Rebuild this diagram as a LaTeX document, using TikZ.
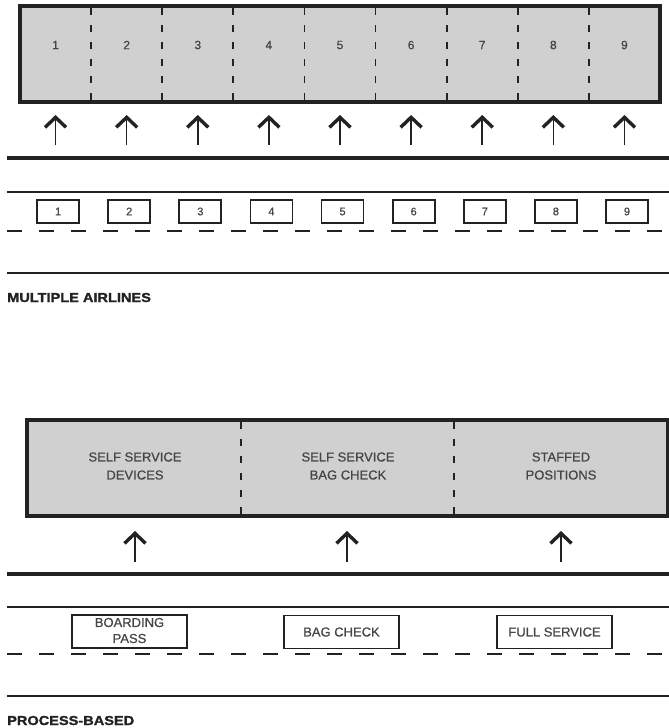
\documentclass[tikz,border=0pt]{standalone}
\usepackage{fontspec}
\setmainfont[FakeBold=0.6]{Liberation Sans}
\newfontfamily\headfont[FakeStretch=1.12,FakeBold=1.4]{Liberation Sans Bold}
\usetikzlibrary{arrows.meta}
\definecolor{ink}{HTML}{222222}
\definecolor{txt}{HTML}{454545}
\definecolor{counterfill}{HTML}{D0D0D0}
\tikzset{
  counterbox/.style={draw=ink, fill=counterfill, line width=4pt, inner sep=0pt},
  divider/.style={draw=ink, line width=1.8pt, dash pattern=on 7pt off 10pt},
  num/.style={text=txt, font=\fontsize{12}{14}\selectfont, inner sep=0pt},
  label/.style={text=txt, font=\fontsize{13}{18}\selectfont, align=center, inner sep=0pt},
  boxlabel/.style={text=txt, font=\fontsize{13}{16}\selectfont, align=center, inner sep=0pt},
  kiosk/.style={draw=ink, line width=1.8pt, minimum width=42pt, minimum height=23pt, inner sep=0pt, text=txt, font=\fontsize{11}{13}\selectfont},
  postbox/.style={draw=ink, line width=1.8pt, minimum width=115pt, minimum height=33pt, inner sep=0pt},
  uparrow/.style={draw=ink, line width=1.6pt, -{Straight Barb[length=10pt, width=21pt, line width=3.4pt]}},
  thickline/.style={draw=ink, line width=4pt},
  thinline/.style={draw=ink, line width=2pt},
  lane/.style={draw=ink, line width=2.5pt, dash pattern=on 15pt off 17pt},
  heading/.style={text=ink, font=\headfont\fontsize{13}{15}\selectfont, inner sep=0pt, anchor=base west}
}
\begin{document}
\begin{tikzpicture}[x=1pt, y=-1pt]
\useasboundingbox (0,0) rectangle (669,728);
\fill[white] (0,0) rectangle (669,728);

% ---------- Multiple airlines ----------
\node[counterbox, minimum width=640pt, minimum height=96pt] (desk) at (340,54) {};
\foreach \i in {1,...,8}
  \draw[divider] (20+71.111*\i, 8) -- (20+71.111*\i, 100);
\foreach \i in {1,...,9} {
  \node[num] (n\i) at (20+71.111*\i-35.556, 45) {\i};
  \coordinate (foot\i) at (20+71.111*\i-35.556, 145);
  \coordinate (tip\i) at (20+71.111*\i-35.556, 115);
  \draw[uparrow] (foot\i) -- (tip\i);
  \node[kiosk] (k\i) at (20+71.111*\i-33, 211.5) {\i};
}
\coordinate (tl) at (7,158);   \coordinate (tr) at (669,158);
\draw[thickline] (tl) -- (tr);
\coordinate (ul) at (7,192);   \coordinate (ur) at (669,192);
\draw[thinline] (ul) -- (ur);
\coordinate (dl) at (7,231);   \coordinate (dr) at (669,231);
\draw[lane] (dl) -- (dr);
\coordinate (bl) at (7,273);   \coordinate (br) at (669,273);
\draw[thinline] (bl) -- (br);
\node[heading] (h1) at (7,302) {MULTIPLE AIRLINES};

% ---------- Process-based ----------
\node[counterbox, minimum width=641pt, minimum height=96pt] (desk2) at (347.5,468) {};
\draw[divider] (240.7,422) -- (240.7,514);
\draw[divider] (454.3,422) -- (454.3,514);
\node[label] (s1) at (135,466) {SELF SERVICE\\DEVICES};
\node[label] (s2) at (348,466) {SELF SERVICE\\BAG CHECK};
\node[label] (s3) at (561,466) {STAFFED\\POSITIONS};
\foreach \x [count=\j] in {135,347,561} {
  \coordinate (pfoot\j) at (\x,562);
  \coordinate (ptip\j) at (\x,531);
  \draw[uparrow] (pfoot\j) -- (ptip\j);
}
\coordinate (tl2) at (7,574);  \coordinate (tr2) at (669,574);
\draw[thickline] (tl2) -- (tr2);
\coordinate (ul2) at (7,607);  \coordinate (ur2) at (669,607);
\draw[thinline] (ul2) -- (ur2);
\node[postbox] (p1) at (129.5,631.5) {};
\node[boxlabel] at ([yshift=1pt]p1.center) {BOARDING\\PASS};
\node[postbox] (p2) at (341.5,632) {};
\node[boxlabel] at (p2) {BAG CHECK};
\node[postbox] (p3) at (554.5,632) {};
\node[boxlabel] at (p3) {FULL SERVICE};
\coordinate (dl2) at (7,654);  \coordinate (dr2) at (669,654);
\draw[lane] (dl2) -- (dr2);
\coordinate (bl2) at (7,696);  \coordinate (br2) at (669,696);
\draw[thinline] (bl2) -- (br2);
\node[heading] (h2) at (7,725) {PROCESS-BASED};
\end{tikzpicture}
\end{document}
